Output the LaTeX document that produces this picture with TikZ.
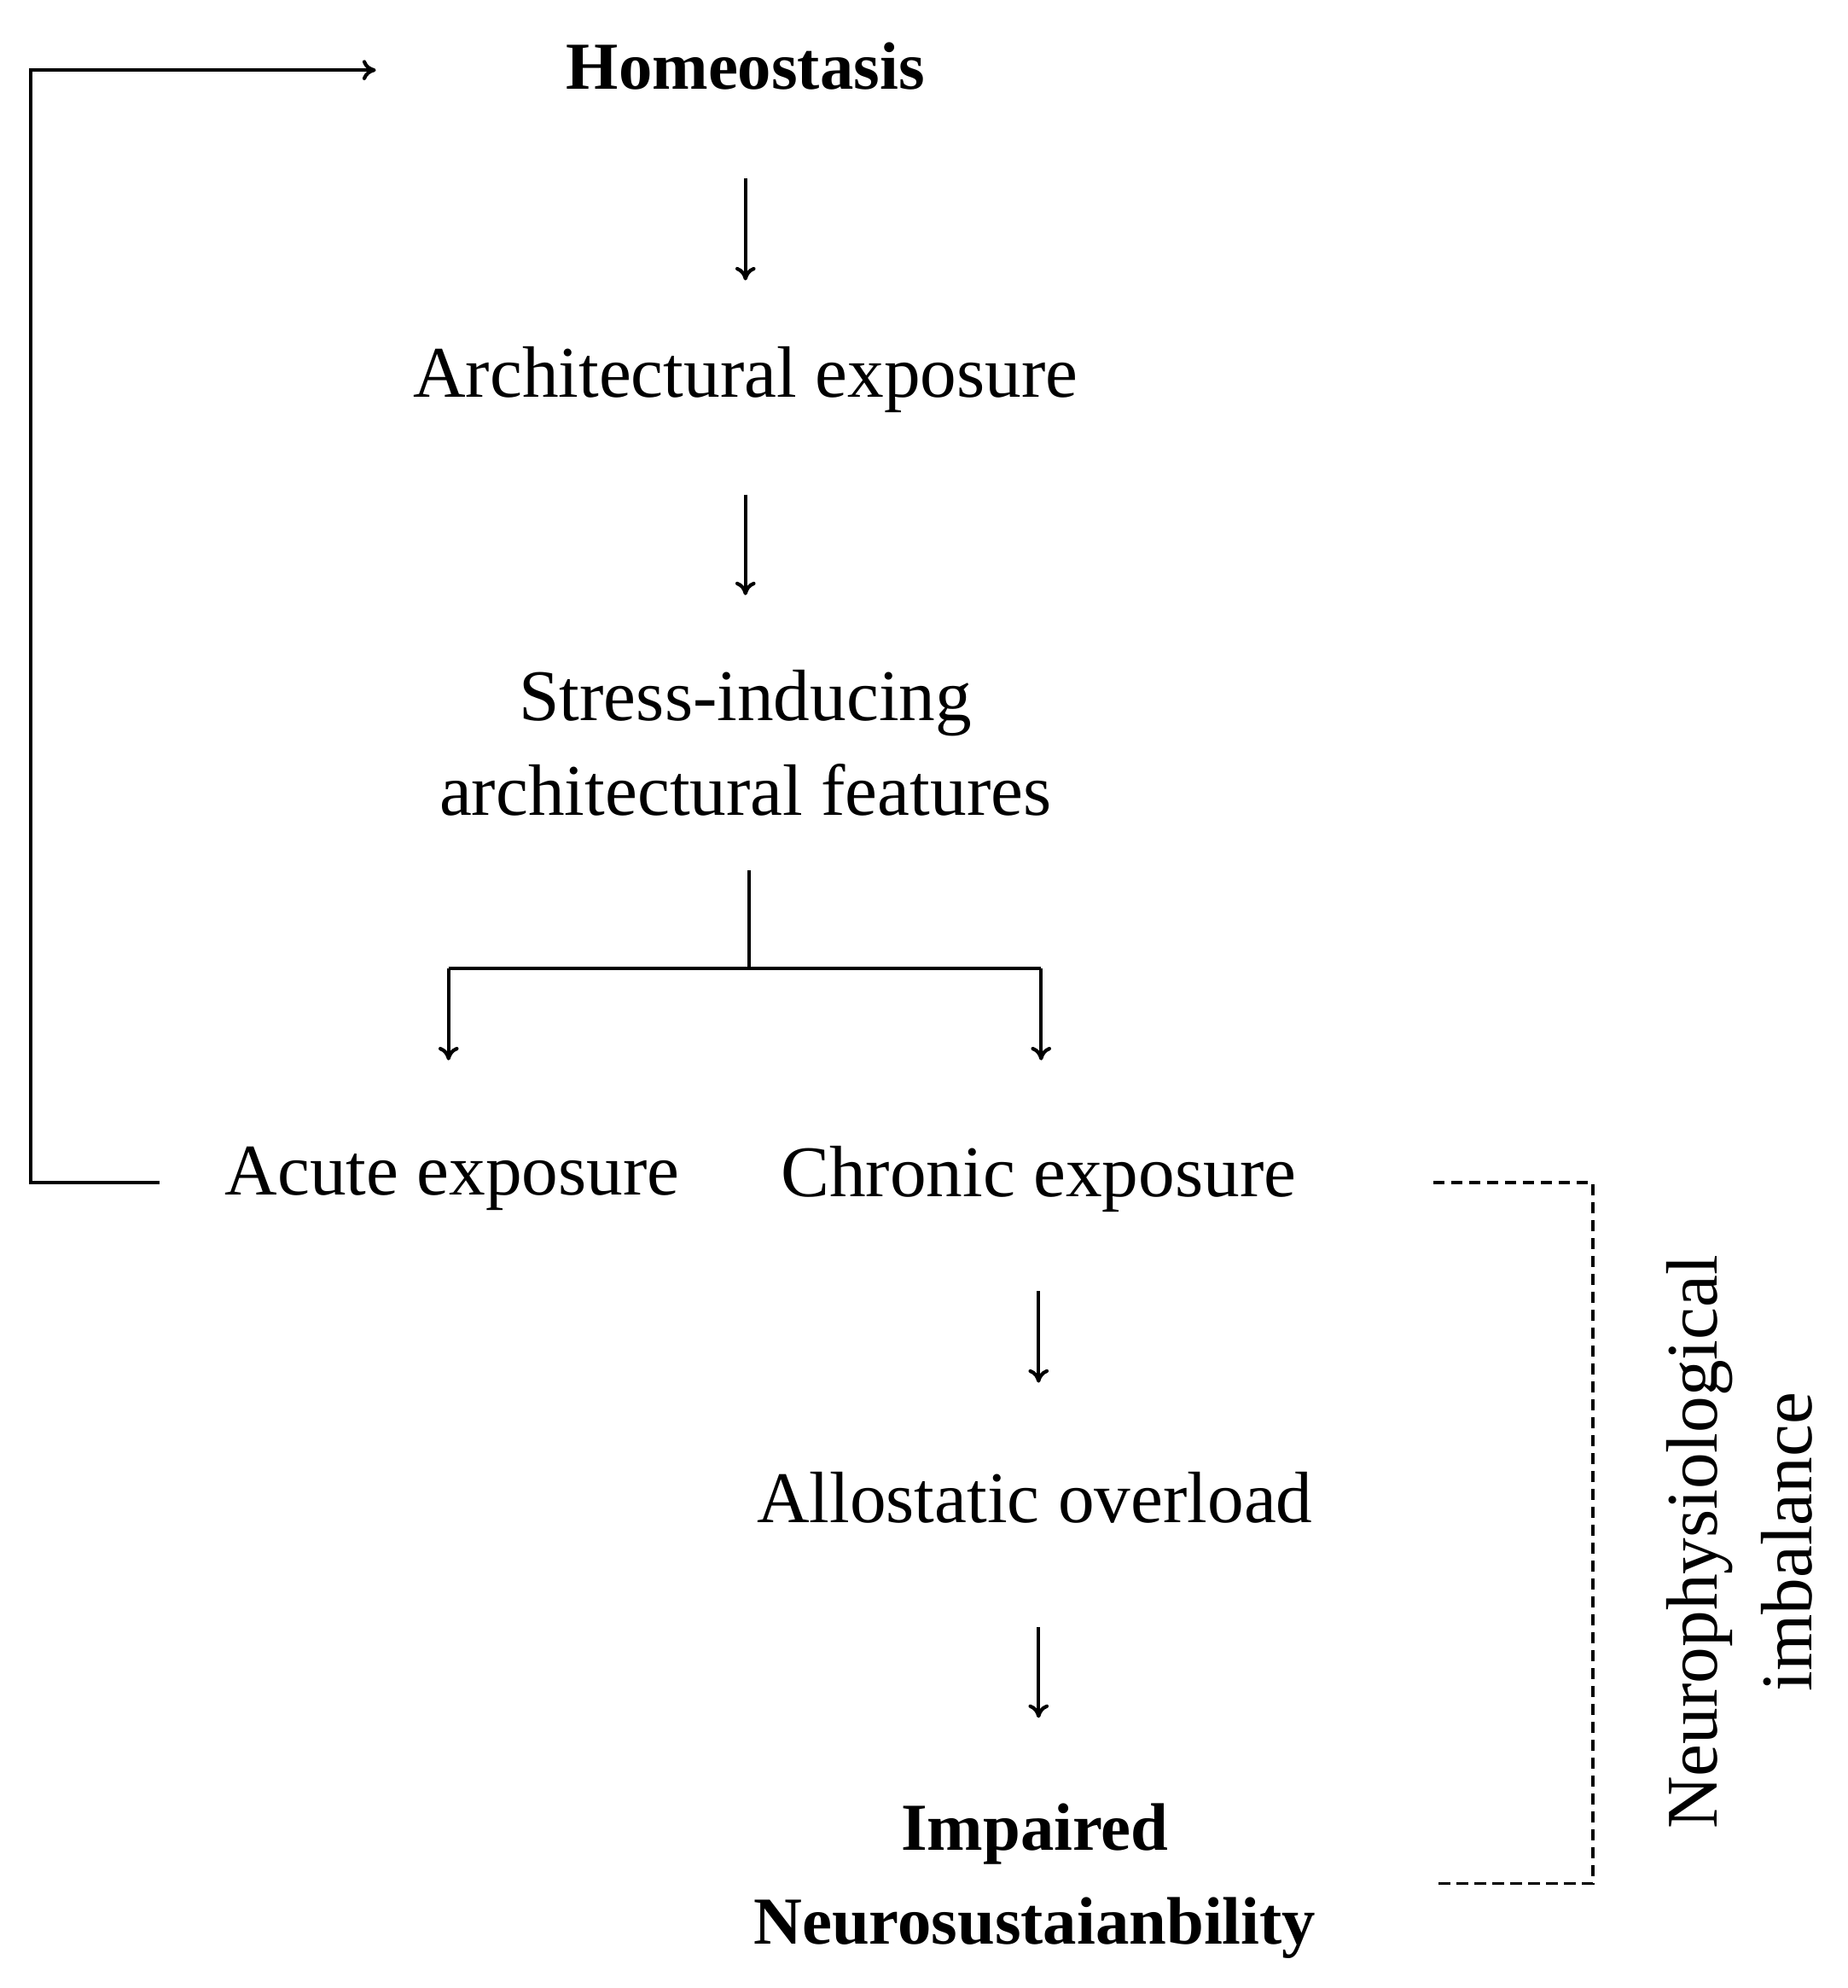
\documentclass[tikz,border=0pt]{standalone}
\usepackage{fontspec}
\setmainfont{Liberation Serif}
\usetikzlibrary{arrows.meta}
\begin{document}
\begin{tikzpicture}[x=0.02cm,y=-0.02cm,
  lab/.style={font=\fontsize{32.5}{42}\selectfont, inner sep=0pt, align=center},
  blab/.style={lab, font=\fontsize{30}{42}\selectfont\bfseries},
  arr/.style={line width=1.6pt, -{To[length=6pt,width=9pt]}},
  ln/.style={line width=1.6pt},
  dl/.style={line width=1.4pt, dash pattern=on 5pt off 3pt}]
\useasboundingbox (0,0) rectangle (1450,1560);
\node[blab] (h) at (585,52) {Homeostasis};
\node[lab] (ae) at (585,298) {Architectural exposure};
\node[lab] (s) at (585,583) {Stress-inducing\\[0pt]architectural features};
\node[lab] (ac) at (355,925) {Acute exposure};
\node[lab] (ch) at (815,925) {Chronic exposure};
\node[lab] (al) at (812,1175) {Allostatic overload};
\node[blab] (im) at (812,1476) {Impaired\\[0pt]Neurosustaianbility};
\node[lab, rotate=90] (np) at (1365,1210) {Neurophysiological\\[0pt]imbalance};
\coordinate (a1) at (585,140); \coordinate (a2) at (585,220);
\coordinate (b1) at (585,388); \coordinate (b2) at (585,467);
\coordinate (c1) at (588,683); \coordinate (c2) at (588,760);
\coordinate (cl) at (352,760); \coordinate (cr) at (817,760);
\coordinate (cla) at (352,832); \coordinate (cra) at (817,832);
\coordinate (d1) at (815,1013); \coordinate (d2) at (815,1085);
\coordinate (e1) at (815,1277); \coordinate (e2) at (815,1348);
\coordinate (f0) at (125,928); \coordinate (f1) at (24,928);
\coordinate (f2) at (24,55); \coordinate (f3) at (295,55);
\coordinate (g0) at (1125,928); \coordinate (g1) at (1250,928);
\coordinate (g2) at (1250,1478); \coordinate (g3) at (1125,1478);
\draw[arr] (a1) -- (a2);
\draw[arr] (b1) -- (b2);
\draw[ln] (c1) -- (c2);
\draw[ln] (cl) -- (cr);
\draw[arr] (cl) -- (cla);
\draw[arr] (cr) -- (cra);
\draw[arr] (d1) -- (d2);
\draw[arr] (e1) -- (e2);
\draw[ln,-{To[length=6pt,width=9pt]}] (f0) -- (f1) -- (f2) -- (f3);
\draw[dl] (g0) -- (g1) -- (g2) -- (g3);
\end{tikzpicture}
\end{document}
